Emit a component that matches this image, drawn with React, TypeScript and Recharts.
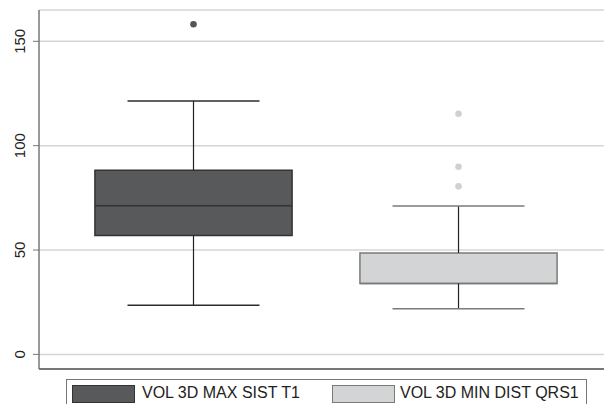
import React from "react";
import {
  ScatterChart,
  Scatter,
  XAxis,
  YAxis,
  CartesianGrid,
  ReferenceArea,
  ReferenceLine,
} from "recharts";

const categories = ["VOL 3D MAX SIST T1", "VOL 3D MIN DIST QRS1"];
const positions = [1, 2];
const q1 = [57, 34];
const median = [71.2, 34];
const q3 = [88.2, 48.6];
const whiskerLow = [23.5, 21.9];
const whiskerHigh = [121.4, 71.1];
const outliers = [[158.2], [115.3, 89.9, 80.5]];
const yTicks = [0, 50, 100, 150];

const boxFill = ["#58595b", "#d3d4d6"];
const boxStroke = ["#333333", "#7a7a7a"];
const capStroke = ["#2b2b2b", "#7a7a7a"];
const dotFill = ["#555555", "#cfd0d2"];

const BOX_HALF = 0.372;
const CAP_HALF = 0.249;
const FONT = "'Liberation Sans', Arial, Helvetica, sans-serif";

const outlierPoints = outliers.map((vals, i) => vals.map((y) => ({ x: positions[i], y })));

const YTick = (props: any) => {
  const { x, y, payload } = props;
  const cx = x - 11;
  return (
    <text
      x={cx}
      y={y}
      transform={`rotate(-90, ${cx}, ${y})`}
      textAnchor="middle"
      dominantBaseline="central"
      fontSize={15}
      fontFamily={FONT}
      fill="#222"
    >
      {payload.value}
    </text>
  );
};

export default function App() {
  return (
    <div style={{ position: "absolute", left: 0, top: 0, width: 604, height: 404, background: "#fff", overflow: "hidden" }}>
      <ScatterChart width={604} height={404} margin={{ top: 10, right: 0, bottom: 0, left: 0 }}>
        <CartesianGrid horizontal vertical={false} stroke="#d6d6d6" strokeWidth={1.5} />
        <XAxis
          type="number"
          dataKey="x"
          domain={[0.417, 2.549]}
          allowDataOverflow
          tick={false}
          tickLine={false}
          height={35}
          axisLine={{ stroke: "#555", strokeWidth: 1.5 }}
        />
        <YAxis
          type="number"
          dataKey="y"
          domain={[-7, 165]}
          allowDataOverflow
          ticks={yTicks}
          width={39}
          tickSize={6}
          tick={<YTick />}
          axisLine={{ stroke: "#777", strokeWidth: 1.5 }}
          tickLine={{ stroke: "#777" }}
        />
        {positions.map((p, i) => (
          <ReferenceArea
            key={`box-${i}`}
            x1={p - BOX_HALF}
            x2={p + BOX_HALF}
            y1={q1[i]}
            y2={q3[i]}
            fill={boxFill[i]}
            fillOpacity={1}
            stroke={boxStroke[i]}
            strokeWidth={1.5}
          />
        ))}
        {positions.map((p, i) => (
          <ReferenceLine
            key={`med-${i}`}
            segment={[{ x: p - BOX_HALF, y: median[i] }, { x: p + BOX_HALF, y: median[i] }]}
            stroke={boxStroke[i]}
            strokeWidth={1.5}
          />
        ))}
        {positions.map((p, i) => (
          <ReferenceLine
            key={`wu-${i}`}
            segment={[{ x: p, y: q3[i] }, { x: p, y: whiskerHigh[i] }]}
            stroke="#222"
            strokeWidth={1.2}
          />
        ))}
        {positions.map((p, i) => (
          <ReferenceLine
            key={`wl-${i}`}
            segment={[{ x: p, y: whiskerLow[i] }, { x: p, y: q1[i] }]}
            stroke="#222"
            strokeWidth={1.2}
          />
        ))}
        {positions.map((p, i) => (
          <ReferenceLine
            key={`cu-${i}`}
            segment={[{ x: p - CAP_HALF, y: whiskerHigh[i] }, { x: p + CAP_HALF, y: whiskerHigh[i] }]}
            stroke={capStroke[i]}
            strokeWidth={1.5}
          />
        ))}
        {positions.map((p, i) => (
          <ReferenceLine
            key={`cl-${i}`}
            segment={[{ x: p - CAP_HALF, y: whiskerLow[i] }, { x: p + CAP_HALF, y: whiskerLow[i] }]}
            stroke={capStroke[i]}
            strokeWidth={1.5}
          />
        ))}
        {outlierPoints.map((pts, i) => (
          <Scatter
            key={`out-${i}`}
            data={pts}
            isAnimationActive={false}
            shape={(props: any) => <circle cx={props.cx} cy={props.cy} r={3.3} fill={dotFill[i]} />}
          />
        ))}
      </ScatterChart>
      <div
        style={{
          position: "absolute",
          left: 66,
          top: 379,
          width: 521,
          height: 32,
          border: "1px solid #777",
          boxSizing: "border-box",
          fontFamily: FONT,
          fontSize: 16,
          color: "#222",
        }}
      >
        {categories.map((c, i) => (
          <React.Fragment key={c}>
            <div
              style={{
                position: "absolute",
                left: i === 0 ? 5 : 264.5,
                top: 5,
                width: 61,
                height: 16,
                background: boxFill[i],
                border: `1px solid ${boxStroke[i]}`,
              }}
            />
            <div
              style={{
                position: "absolute",
                left: i === 0 ? 75 : 333,
                top: 4,
                lineHeight: "18px",
                whiteSpace: "nowrap",
              }}
            >
              {c}
            </div>
          </React.Fragment>
        ))}
      </div>
    </div>
  );
}
